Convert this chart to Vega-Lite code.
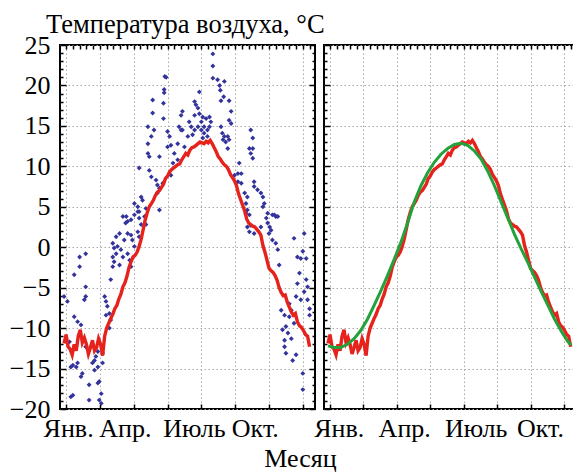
{
"$schema": "https://vega.github.io/schema/vega-lite/v6.json",
"background": "white",
"padding": {"left": 8, "top": 10, "right": 0, "bottom": 0},
"bounds": "flush",
"config": {"view": {"stroke": "black", "strokeWidth": 2}, "font": "Liberation Serif", "axis": {"minExtent": 0}},
"title": {"text": "Месяц", "orient": "bottom", "anchor": "middle", "fontSize": 26, "font": "Liberation Serif", "fontWeight": "normal", "color": "black", "offset": 4, "dx": 7},
"spacing": 9,
"datasets": {
"obs": [
{"d":221,"t":23.9},{"d":221,"t":22.4},{"d":150,"t":21.1},{"d":152,"t":21.0},{"d":221,"t":20.9},{"d":228,"t":20.7},{"d":231,"t":20.0},{"d":238,"t":20.5},{"d":232,"t":19.4},{"d":237,"t":18.6},{"d":149,"t":19.5},{"d":149,"t":19.1},{"d":201,"t":19.2},{"d":132,"t":18.2},{"d":245,"t":18.1},{"d":233,"t":18.1},{"d":148,"t":17.8},{"d":194,"t":18.0},{"d":196,"t":17.6},{"d":199,"t":17.2},{"d":132,"t":16.6},{"d":176,"t":16.8},{"d":174,"t":16.3},{"d":248,"t":16.8},{"d":211,"t":15.9},{"d":216,"t":16.1},{"d":206,"t":16.1},{"d":204,"t":15.5},{"d":218,"t":15.5},{"d":201,"t":16.5},{"d":148,"t":15.9},{"d":245,"t":15.7},{"d":248,"t":15.3},{"d":125,"t":14.9},{"d":134,"t":14.5},{"d":130,"t":13.7},{"d":171,"t":14.9},{"d":174,"t":14.5},{"d":176,"t":14.5},{"d":189,"t":14.9},{"d":194,"t":14.5},{"d":191,"t":13.9},{"d":208,"t":14.9},{"d":213,"t":14.5},{"d":233,"t":14.9},{"d":235,"t":14.1},{"d":238,"t":13.7},{"d":243,"t":13.7},{"d":245,"t":13.3},{"d":277,"t":14.5},{"d":280,"t":13.5},{"d":154,"t":14.3},{"d":157,"t":13.7},{"d":159,"t":12.6},{"d":154,"t":12.4},{"d":125,"t":12.8},{"d":169,"t":12.8},{"d":179,"t":12.4},{"d":243,"t":12.2},{"d":275,"t":12.2},{"d":280,"t":12.2},{"d":277,"t":11.6},{"d":280,"t":11.0},{"d":125,"t":11.6},{"d":127,"t":11.2},{"d":142,"t":11.2},{"d":164,"t":11.6},{"d":169,"t":10.8},{"d":162,"t":10.4},{"d":260,"t":10.4},{"d":127,"t":9.5},{"d":258,"t":9.1},{"d":263,"t":9.1},{"d":253,"t":8.9},{"d":159,"t":8.9},{"d":112,"t":9.8},{"d":130,"t":8.7},{"d":137,"t":8.3},{"d":139,"t":7.7},{"d":142,"t":7.3},{"d":147,"t":7.9},{"d":258,"t":8.1},{"d":263,"t":7.9},{"d":282,"t":8.1},{"d":282,"t":7.5},{"d":287,"t":7.1},{"d":139,"t":6.7},{"d":115,"t":6.2},{"d":117,"t":5.8},{"d":268,"t":6.7},{"d":272,"t":6.2},{"d":292,"t":6.7},{"d":295,"t":6.2},{"d":297,"t":5.4},{"d":105,"t":5.4},{"d":110,"t":5.0},{"d":112,"t":4.4},{"d":122,"t":4.8},{"d":142,"t":4.6},{"d":302,"t":4.2},{"d":309,"t":4.0},{"d":314,"t":3.8},{"d":93,"t":3.8},{"d":100,"t":3.4},{"d":95,"t":3.2},{"d":105,"t":4.0},{"d":302,"t":3.0},{"d":272,"t":4.6},{"d":275,"t":4.0},
{"d":184,"t":13.7},{"d":199,"t":14.9},{"d":204,"t":14.5},{"d":208,"t":14.1},{"d":213,"t":13.7},{"d":186,"t":15.5},{"d":194,"t":16.3},{"d":216,"t":14.9},{"d":206,"t":13.5},{"d":236,"t":13.3},{"d":240,"t":13.0},{"d":270,"t":5.4},
{"d":88,"t":3.8},{"d":92,"t":3.0},{"d":110,"t":4.4},{"d":112,"t":3.6},{"d":120,"t":3.8},{"d":115,"t":2.8},{"d":122,"t":2.8},
{"d":78,"t":1.3},{"d":83,"t":1.7},{"d":90,"t":0.9},{"d":95,"t":1.7},{"d":100,"t":1.5},{"d":102,"t":0.9},{"d":110,"t":1.9},{"d":112,"t":1.3},
{"d":73,"t":0.5},{"d":75,"t":-0.1},{"d":80,"t":0.1},{"d":78,"t":-0.8},{"d":85,"t":-0.3},{"d":88,"t":-1.2},{"d":73,"t":-1.2},{"d":75,"t":-1.8},{"d":83,"t":-2.2},{"d":95,"t":-0.8},{"d":98,"t":-1.6},{"d":100,"t":-2.4},{"d":105,"t":0.1},
{"d":73,"t":-2.4},{"d":70,"t":-4.0},
{"d":61,"t":-6.1},{"d":63,"t":-6.7},{"d":65,"t":-7.3},{"d":68,"t":-8.2},{"d":63,"t":-8.4},{"d":70,"t":-9.0},{"d":68,"t":-10.0},
{"d":1,"t":-6.1},{"d":6,"t":-6.7},{"d":16,"t":-3.4},{"d":24,"t":-2.4},{"d":24,"t":-1.2},{"d":33,"t":-0.8},{"d":33,"t":-6.1},{"d":31,"t":-6.5},{"d":33,"t":-4.9},{"d":16,"t":-8.6},{"d":21,"t":-9.2},{"d":26,"t":-9.6},{"d":16,"t":-12.3},{"d":9,"t":-11.7},{"d":11,"t":-14.8},{"d":14,"t":-14.6},{"d":21,"t":-14.3},{"d":19,"t":-14.8},{"d":28,"t":-15.6},{"d":26,"t":-16.0},{"d":11,"t":-18.5},{"d":14,"t":-18.3},{"d":38,"t":-17.0},{"d":38,"t":-18.9},{"d":43,"t":-14.3},{"d":46,"t":-14.0},{"d":48,"t":-13.5},{"d":51,"t":-14.8},{"d":46,"t":-15.2},{"d":53,"t":-16.6},{"d":51,"t":-16.8},{"d":56,"t":-18.1},{"d":53,"t":-18.9},{"d":56,"t":-19.3},{"d":58,"t":-14.3},{"d":58,"t":-13.1},{"d":51,"t":-12.9},{"d":41,"t":-12.3},{"d":33,"t":-12.3},
{"d":270,"t":4.2},{"d":272,"t":2.5},{"d":275,"t":1.9},{"d":277,"t":2.7},{"d":282,"t":1.7},{"d":292,"t":2.5},{"d":295,"t":5.0},{"d":300,"t":3.6},{"d":305,"t":2.5},{"d":307,"t":2.1},{"d":304,"t":1.7},{"d":309,"t":0.9},{"d":314,"t":0.5},{"d":317,"t":-0.3},{"d":319,"t":-2.2},{"d":312,"t":4.0},{"d":317,"t":3.8},
{"d":322,"t":-7.8},{"d":327,"t":-8.4},{"d":324,"t":-10.2},{"d":329,"t":-9.8},{"d":327,"t":-12.3},{"d":332,"t":-10.6},{"d":334,"t":-8.6},{"d":337,"t":-7.8},{"d":334,"t":-7.0},{"d":341,"t":-9.4},{"d":337,"t":-11.3},{"d":339,"t":-14.0},{"d":351,"t":-6.5},{"d":346,"t":-4.5},{"d":349,"t":-3.2},{"d":344,"t":-6.1},{"d":346,"t":-1.2},{"d":341,"t":1.1},{"d":351,"t":-1.4},{"d":354,"t":-0.5},{"d":356,"t":1.7},{"d":359,"t":-1.4},{"d":359,"t":-4.0},{"d":361,"t":-4.9},{"d":361,"t":-6.5},{"d":364,"t":-7.6},{"d":364,"t":-8.4},{"d":356,"t":-5.5},{"d":354,"t":-15.6},{"d":354,"t":-17.6},{"d":344,"t":-13.3},{"d":327,"t":-11.5},{"d":329,"t":-13.1}
],
"avg": [
{"d":1,"t":-11.9},{"d":4,"t":-10.8},{"d":7,"t":-12.3},{"d":10,"t":-12.6},{"d":13,"t":-13.3},{"d":16,"t":-12.0},{"d":19,"t":-12.8},{"d":22,"t":-11.0},{"d":25,"t":-10.2},{"d":28,"t":-11.8},{"d":31,"t":-11.2},{"d":34,"t":-12.0},{"d":37,"t":-13.2},{"d":40,"t":-12.4},{"d":43,"t":-11.5},{"d":46,"t":-12.8},{"d":49,"t":-12.4},{"d":52,"t":-11.3},{"d":55,"t":-12.0},{"d":58,"t":-13.4},{"d":61,"t":-11.0},{"d":64,"t":-10.0},{"d":67,"t":-9.4},{"d":70,"t":-8.8},{"d":73,"t":-8.3},{"d":76,"t":-7.6},{"d":79,"t":-7.2},{"d":82,"t":-6.4},{"d":85,"t":-5.8},{"d":88,"t":-4.9},{"d":91,"t":-4.4},{"d":94,"t":-3.6},{"d":97,"t":-2.5},{"d":100,"t":-1.8},{"d":103,"t":-1.2},{"d":106,"t":-1.0},{"d":109,"t":-0.6},{"d":112,"t":0.1},{"d":115,"t":1.0},{"d":118,"t":2.2},{"d":121,"t":3.4},{"d":124,"t":4.3},{"d":127,"t":5.0},{"d":130,"t":5.4},{"d":133,"t":5.8},{"d":136,"t":6.4},{"d":139,"t":6.8},{"d":142,"t":7.0},{"d":145,"t":7.4},{"d":148,"t":7.8},{"d":151,"t":8.5},{"d":154,"t":8.8},{"d":157,"t":9.3},{"d":160,"t":9.6},{"d":163,"t":9.8},{"d":166,"t":10.0},{"d":169,"t":10.2},{"d":172,"t":10.3},{"d":175,"t":10.8},{"d":178,"t":11.2},{"d":181,"t":11.6},{"d":184,"t":11.4},{"d":187,"t":12.0},{"d":190,"t":12.3},{"d":193,"t":12.4},{"d":196,"t":12.6},{"d":199,"t":12.8},{"d":202,"t":13.0},{"d":205,"t":12.9},{"d":208,"t":12.8},{"d":211,"t":13.1},{"d":214,"t":12.9},{"d":217,"t":13.2},{"d":220,"t":12.8},{"d":223,"t":12.3},{"d":226,"t":11.8},{"d":229,"t":11.2},{"d":232,"t":10.9},{"d":235,"t":10.5},{"d":238,"t":10.2},{"d":241,"t":10.0},{"d":244,"t":9.6},{"d":247,"t":9.0},{"d":250,"t":8.6},{"d":253,"t":8.2},{"d":256,"t":7.6},{"d":259,"t":6.6},{"d":262,"t":5.9},{"d":265,"t":5.2},{"d":268,"t":4.5},{"d":271,"t":3.5},{"d":274,"t":3.0},{"d":277,"t":2.8},{"d":280,"t":2.6},{"d":283,"t":2.5},{"d":286,"t":2.2},{"d":289,"t":1.9},{"d":292,"t":1.5},{"d":295,"t":0.2},{"d":298,"t":-0.6},{"d":301,"t":-1.6},{"d":304,"t":-2.6},{"d":307,"t":-2.9},{"d":310,"t":-3.1},{"d":313,"t":-3.5},{"d":316,"t":-4.1},{"d":319,"t":-5.0},{"d":322,"t":-5.6},{"d":325,"t":-6.0},{"d":328,"t":-5.9},{"d":331,"t":-6.8},{"d":334,"t":-7.4},{"d":337,"t":-8.0},{"d":340,"t":-8.4},{"d":343,"t":-8.2},{"d":346,"t":-9.2},{"d":349,"t":-9.7},{"d":352,"t":-9.9},{"d":355,"t":-10.3},{"d":358,"t":-10.8},{"d":361,"t":-11.0},{"d":364,"t":-12.3}
],
"fit": [
{"d":1,"t":-12.2},{"d":10,"t":-12.4},{"d":20,"t":-12.4},{"d":30,"t":-12.0},{"d":40,"t":-11.3},{"d":50,"t":-10.3},{"d":60,"t":-8.9},{"d":70,"t":-7.2},{"d":80,"t":-5.4},{"d":90,"t":-3.5},{"d":100,"t":-1.5},{"d":110,"t":0.6},{"d":120,"t":3.0},{"d":130,"t":5.6},{"d":140,"t":7.6},{"d":150,"t":9.2},{"d":160,"t":10.5},{"d":170,"t":11.5},{"d":180,"t":12.2},{"d":190,"t":12.7},{"d":200,"t":12.85},{"d":210,"t":12.6},{"d":220,"t":11.9},{"d":230,"t":10.9},{"d":240,"t":9.4},{"d":250,"t":7.6},{"d":260,"t":5.6},{"d":270,"t":3.6},{"d":280,"t":1.6},{"d":290,"t":-0.2},{"d":300,"t":-1.9},{"d":310,"t":-3.7},{"d":320,"t":-5.5},{"d":330,"t":-7.2},{"d":340,"t":-8.9},{"d":350,"t":-10.4},{"d":360,"t":-11.7},{"d":365,"t":-12.1}
]
},
"hconcat": [
{
"width": 255, "height": 364,
"title": {"text": "Температура воздуха, °С", "anchor": "start", "frame": "group", "dx": -14, "offset": -6, "baseline": "top", "fontSize": 26.5, "font": "Liberation Serif", "fontWeight": "normal", "color": "black"},
"resolve": {"axis": {"x": "independent", "y": "independent"}},
"layer": [
{"data": {"name": "obs"},
 "mark": {"type": "point", "shape": "diamond", "filled": true, "size": 24, "color": "#33339c", "opacity": 1},
 "encoding": {
  "x": {"field": "d", "type": "quantitative", "scale": {"domain": [-5, 372], "nice": false, "zero": false},
   "axis": {"orient": "bottom", "values": [4,54,104,154,204,254,304,354,7,91,193,283], "title": null, "domain": false,
    "grid": true, "gridColor": "#a8a8a8", "gridDash": [1.5,2.5], "gridWidth": 1,
    "gridOpacity": {"condition": {"test": "indexof([7,91,193,283], datum.value) >= 0", "value": 0}, "value": 1},
    "tickColor": "black", "tickWidth": 1.5, "tickSize": -5,
    "tickOpacity": {"condition": {"test": "indexof([7,91,193,283], datum.value) >= 0", "value": 0}, "value": 1},
    "labelExpr": "datum.value == 7 ? 'Янв.' : datum.value == 91 ? 'Апр.' : datum.value == 193 ? 'Июль' : datum.value == 283 ? 'Окт.' : ''",
    "labelFont": "Liberation Serif", "labelFontSize": 26, "labelColor": "black", "labelPadding": 11, "labelOverlap": false, "labelFlush": false, "labelBound": false}},
  "y": {"field": "t", "type": "quantitative", "scale": {"domain": [-20, 25], "nice": false, "zero": false},
   "axis": {"orient": "left", "values": [-20,-19,-18,-17,-16,-15,-14,-13,-12,-11,-10,-9,-8,-7,-6,-5,-4,-3,-2,-1,0,1,2,3,4,5,6,7,8,9,10,11,12,13,14,15,16,17,18,19,20,21,22,23,24,25],
    "title": null, "domain": false, "grid": true, "gridColor": "#a8a8a8", "gridDash": [1.5,2.5], "gridWidth": 1,
    "gridOpacity": {"condition": {"test": "datum.value % 5 !== 0", "value": 0}, "value": 1},
    "tickColor": "black", "tickWidth": 1.5,
    "tickSize": {"condition": {"test": "datum.value % 5 !== 0", "value": -3}, "value": -6},
    "labelExpr": "datum.value % 5 === 0 ? datum.label : ''",
    "labelFont": "Liberation Serif", "labelFontSize": 26, "labelColor": "black", "labelPadding": 16, "labelOverlap": false, "labelFlush": false, "labelBound": false}}
 }},
{"data": {"name": "avg"},
 "mark": {"type": "line", "color": "#e5231c", "strokeWidth": 3.4},
 "encoding": {
  "x": {"field": "d", "type": "quantitative", "scale": {"domain": [-5, 372], "nice": false, "zero": false},
   "axis": {"orient": "top", "values": [4,14,24,34,44,54,64,74,84,94,104,114,124,134,144,154,164,174,184,194,204,214,224,234,244,254,264,274,284,294,304,314,324,334,344,354,364],
    "title": null, "domain": false, "grid": false, "labels": false, "tickColor": "black", "tickWidth": 1.5, "tickSize": -4, "minExtent": 0, "maxExtent": 0}},
  "y": {"field": "t", "type": "quantitative", "scale": {"domain": [-20, 25], "nice": false, "zero": false},
   "axis": {"orient": "right", "values": [-20,-19,-18,-17,-16,-15,-14,-13,-12,-11,-10,-9,-8,-7,-6,-5,-4,-3,-2,-1,0,1,2,3,4,5,6,7,8,9,10,11,12,13,14,15,16,17,18,19,20,21,22,23,24,25],
    "title": null, "domain": false, "grid": false, "labels": false, "tickColor": "black", "tickWidth": 1.5, "minExtent": 0, "maxExtent": 0,
    "tickSize": {"condition": {"test": "datum.value % 5 !== 0", "value": -3}, "value": -6}}}
 }}
]
},
{
"width": 252, "height": 364,
"resolve": {"axis": {"x": "independent", "y": "independent"}},
"layer": [
{"data": {"name": "avg"},
 "mark": {"type": "line", "color": "#e5231c", "strokeWidth": 3.4},
 "encoding": {
  "x": {"field": "d", "type": "quantitative", "scale": {"domain": [-5, 372], "nice": false, "zero": false},
   "axis": {"orient": "bottom", "values": [4,54,104,154,204,254,304,354,17,115,222,318], "title": null, "domain": false,
    "grid": true, "gridColor": "#a8a8a8", "gridDash": [1.5,2.5], "gridWidth": 1,
    "gridOpacity": {"condition": {"test": "indexof([17,115,222,318], datum.value) >= 0", "value": 0}, "value": 1},
    "tickColor": "black", "tickWidth": 1.5, "tickSize": -5,
    "tickOpacity": {"condition": {"test": "indexof([17,115,222,318], datum.value) >= 0", "value": 0}, "value": 1},
    "labelExpr": "datum.value == 17 ? 'Янв.' : datum.value == 115 ? 'Апр.' : datum.value == 222 ? 'Июль' : datum.value == 318 ? 'Окт.' : ''",
    "labelFont": "Liberation Serif", "labelFontSize": 26, "labelColor": "black", "labelPadding": 11, "labelOverlap": false, "labelFlush": false, "labelBound": false}},
  "y": {"field": "t", "type": "quantitative", "scale": {"domain": [-20, 25], "nice": false, "zero": false},
   "axis": {"orient": "left", "values": [-20,-19,-18,-17,-16,-15,-14,-13,-12,-11,-10,-9,-8,-7,-6,-5,-4,-3,-2,-1,0,1,2,3,4,5,6,7,8,9,10,11,12,13,14,15,16,17,18,19,20,21,22,23,24,25],
    "title": null, "domain": false, "grid": true, "gridColor": "#a8a8a8", "gridDash": [1.5,2.5], "gridWidth": 1,
    "gridOpacity": {"condition": {"test": "datum.value % 5 !== 0", "value": 0}, "value": 1},
    "tickColor": "black", "tickWidth": 1.5, "minExtent": 0, "maxExtent": 0,
    "tickSize": {"condition": {"test": "datum.value % 5 !== 0", "value": -3}, "value": -6},
    "labels": false}}
 }},
{"data": {"name": "fit"},
 "mark": {"type": "line", "color": "#22a23a", "strokeWidth": 3},
 "encoding": {
  "x": {"field": "d", "type": "quantitative", "scale": {"domain": [-5, 372], "nice": false, "zero": false},
   "axis": {"orient": "top", "values": [4,14,24,34,44,54,64,74,84,94,104,114,124,134,144,154,164,174,184,194,204,214,224,234,244,254,264,274,284,294,304,314,324,334,344,354,364],
    "title": null, "domain": false, "grid": false, "labels": false, "tickColor": "black", "tickWidth": 1.5, "tickSize": -4, "minExtent": 0, "maxExtent": 0}},
  "y": {"field": "t", "type": "quantitative", "scale": {"domain": [-20, 25], "nice": false, "zero": false},
   "axis": null}
 }}
]
}
]
}
